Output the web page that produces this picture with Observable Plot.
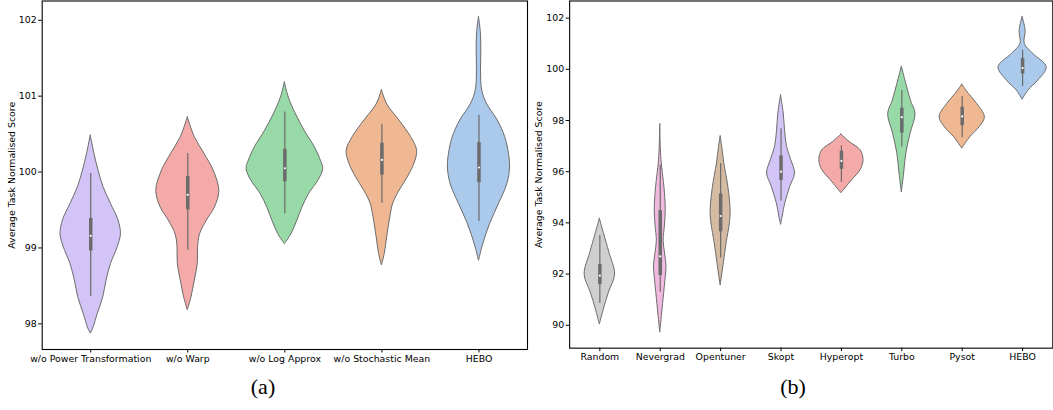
<!DOCTYPE html>
<html><head><meta charset="utf-8">
<script src="https://cdn.jsdelivr.net/npm/d3@7"></script>
<script src="https://cdn.jsdelivr.net/npm/@observablehq/plot@0.6"></script>
<style>
body{margin:0;background:#fff;overflow:hidden;width:1053px;height:410px;position:relative;font-family:"DejaVu Sans",sans-serif;}
#a{position:absolute;left:0;top:0}
#b{position:absolute;left:530px;top:0}
.cap{position:absolute;top:376px;line-height:22px;font-family:"Liberation Serif",serif;font-size:22px;color:#000;transform:translateX(-50%);}
</style></head><body>
<div id="a"></div><div id="b"></div>
<div class="cap" style="left:263px">(a)</div><div class="cap" style="left:793px">(b)</div>
<script>
// ---------- Panel (a) data ----------
const namesA = ["w/o Power Transformation", "w/o Warp", "w/o Log Approx", "w/o Stochastic Mean", "HEBO"];
// density profiles: [score, half-width as fraction of category spacing]
const densPower = [[100.48,0],[100.24,0.038],[100.02,0.080],[99.80,0.132],[99.58,0.209],[99.36,0.287],[99.18,0.311],[99.01,0.278],[98.79,0.209],[98.57,0.163],[98.35,0.129],[98.13,0.072],[97.95,0.029],[97.87,0]];
const densWarp = [[100.72,0],[100.46,0.072],[100.24,0.172],[100.02,0.266],[99.75,0.325],[99.53,0.278],[99.36,0.196],[99.18,0.126],[99.01,0.106],[98.79,0.103],[98.57,0.072],[98.35,0.038],[98.18,0]];
const densLog = [[101.18,0],[100.98,0.041],[100.76,0.115],[100.54,0.206],[100.32,0.312],[100.15,0.371],[100.04,0.395],[99.89,0.347],[99.71,0.249],[99.53,0.180],[99.36,0.129],[99.18,0.067],[99.05,0]];
const densStoch = [[101.08,0],[100.89,0.055],[100.68,0.180],[100.46,0.301],[100.28,0.363],[100.11,0.335],[99.93,0.266],[99.75,0.180],[99.58,0.115],[99.40,0.086],[99.14,0.054],[98.92,0.029],[98.77,0]];
const densHeboA = [[102.04,0],[101.86,0.018],[101.60,0.024],[101.33,0.021],[101.07,0.034],[100.89,0.086],[100.68,0.193],[100.46,0.270],[100.24,0.309],[100.06,0.320],[99.84,0.292],[99.58,0.206],[99.32,0.116],[99.05,0.044],[98.83,0]];
// box stats: [whisker low, q1, median, q3, whisker high]
const statsA = [[98.36,98.96,99.16,99.39,99.98],[98.97,99.50,99.70,99.94,100.245],[99.45,99.87,100.05,100.30,100.79],[99.59,99.96,100.16,100.38,100.63],[99.35,99.86,100.06,100.39,100.75]];
const yTicksA = [98, 99, 100, 101, 102];

// ---------- Panel (b) data ----------
const namesB = ["Random", "Nevergrad", "Opentuner", "Skopt", "Hyperopt", "Turbo", "Pysot", "HEBO"];
const densRandom = [[94.16,0],[93.60,0.066],[92.82,0.160],[91.98,0.252],[91.27,0.149],[90.62,0.066],[90.03,0]];
const densNevergrad = [[97.85,0],[96.90,0.010],[96.32,0.025],[95.60,0.060],[95.16,0.078],[94.51,0.091],[93.90,0.078],[93.30,0.056],[92.80,0.080],[92.30,0.104],[91.85,0.090],[91.40,0.071],[90.62,0.038],[89.71,0]];
const densOpentuner = [[97.38,0],[96.90,0.030],[96.32,0.061],[95.41,0.127],[94.51,0.165],[93.99,0.153],[93.21,0.099],[92.43,0.053],[91.55,0]];
const densSkopt = [[98.98,0],[98.27,0.045],[97.62,0.066],[96.97,0.099],[96.45,0.170],[95.93,0.231],[95.41,0.153],[94.77,0.071],[94.25,0.028],[93.92,0]];
const densHyperopt = [[97.45,0],[97.16,0.137],[96.84,0.317],[96.45,0.366],[96.06,0.317],[95.67,0.178],[95.16,0]];
const densTurbo = [[100.10,0],[99.43,0.074],[98.78,0.149],[98.26,0.226],[97.49,0.145],[96.71,0.074],[95.93,0.038],[95.19,0]];
const densPysot = [[99.40,0],[99.04,0.110],[98.65,0.248],[98.13,0.375],[97.74,0.289],[97.36,0.137],[96.90,0]];
const densHeboB = [[102.05,0],[101.50,0.050],[100.99,0.036],[100.60,0.178],[100.08,0.399],[99.56,0.261],[99.17,0.096],[98.81,0]];
const statsB = [[90.85,91.59,91.94,92.37,93.51],[91.29,91.94,92.69,94.48,96.25],[92.63,93.65,94.27,95.13,96.32],[94.86,95.66,96.0,96.62,97.68],[95.58,96.09,96.42,96.80,97.01],[96.97,97.51,98.13,98.48,99.17],[97.33,97.80,98.16,98.52,98.94],[99.33,99.82,100.05,100.43,100.75]];
const yTicksB = [90, 92, 94, 96, 98, 100, 102];

// ---------- styles ----------
const colorsA = ["#d3c4f7", "#f3aaa8", "#98daa7", "#efb792", "#abc9ea"];
const colorsB = ["#cfcfcf", "#f1b9e0", "#d6bba3", "#d3c4f7", "#f3aaa8", "#98daa7", "#efb792", "#abc9ea"];
const GRAY = "#6b6b6b";

function panel(names, dens, stats, colors, yDomain, yTicks, width, ml, mr) {
  const boxes = stats.map(([lo, q1, med, q3, hi], i) => ({i, lo, q1, med, q3, hi}));
  const violins = dens.map((prof, i) => Plot.areaX(prof.map(([v, w]) => ({i, v, w})), {
    y: "v", x1: d => d.i - d.w, x2: d => d.i + d.w,
    fill: colors[i], stroke: GRAY, strokeWidth: 1, curve: "catmull-rom"
  }));
  return Plot.plot({
    width, height: 372, marginLeft: ml, marginRight: mr, marginTop: 0.5, marginBottom: 23,
    style: {fontFamily: "DejaVu Sans", fontSize: "9.4px", color: "#000", background: "transparent", overflow: "visible"},
    x: {domain: [-0.5, names.length - 0.5]},
    y: {domain: yDomain},
    marks: [
      ...violins,
      Plot.ruleX(boxes, {x: "i", y1: "lo", y2: "hi", stroke: GRAY, strokeWidth: 1.2}),
      Plot.ruleX(boxes, {x: "i", y1: "q1", y2: "q3", stroke: GRAY, strokeWidth: 3.5}),
      Plot.dot(boxes, {x: "i", y: "med", r: 1.1, fill: "white"}),
      Plot.frame({stroke: "#000", strokeWidth: 1.1}),
      Plot.axisY({ticks: yTicks, tickFormat: d => String(d), tickSize: 3.5, tickPadding: 2, label: "Average Task Normalised Score", labelAnchor: "center", labelArrow: "none", labelOffset: 34}),
      Plot.axisX({ticks: d3.range(names.length), tickFormat: i => names[i], tickSize: 3.5, tickPadding: 2, label: null})
    ]
  });
}

document.getElementById("a").append(panel(namesA, [densPower, densWarp, densLog, densStoch, densHeboA], statsA, colorsA, [97.662, 102.254], yTicksA, 530, 41.7, 3));
document.getElementById("b").append(panel(namesB, [densRandom, densNevergrad, densOpentuner, densSkopt, densHyperopt, densTurbo, densPysot, densHeboB], statsB, colorsB, [89.106, 102.67], yTicksB, 525, 39.3, 0.7));
</script>
</body></html>
